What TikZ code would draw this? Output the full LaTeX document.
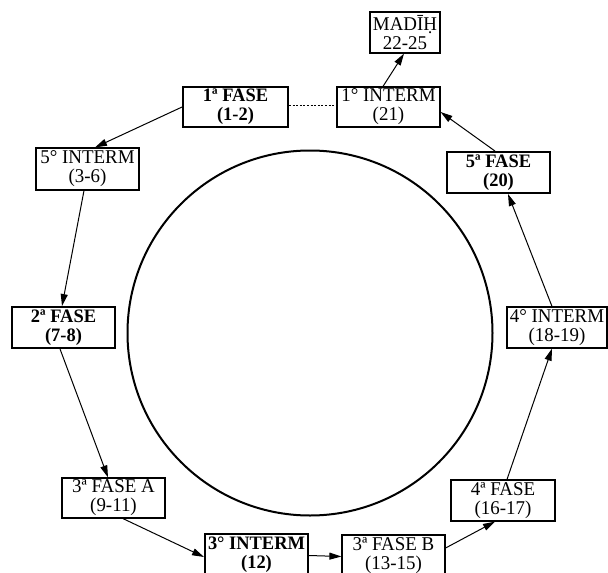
\documentclass[tikz,border=0pt]{standalone}
\usepackage{fontspec}
\setmainfont[FakeStretch=0.97]{Liberation Serif}
\usetikzlibrary{arrows.meta}
\begin{document}
\begin{tikzpicture}[x=1pt,y=-1pt,
  box/.style={draw, line width=1.2pt, inner sep=0pt, align=center,
    minimum width=103pt, minimum height=40pt,
    font=\fontsize{19.5}{19}\selectfont},
  boldbox/.style={box, line width=1.9pt, font=\fontsize{19}{19}\selectfont\bfseries},
  conn/.style={line width=1pt, -{Triangle[length=12pt,width=7pt]}},
  dotline/.style={line width=1pt, dash pattern=on 2pt off 1.6pt}]
\useasboundingbox (0,0) rectangle (608,573);
\clip (0,0) rectangle (608,573);

\draw[line width=2pt] (310,333) circle[radius=182.5];

\node[box, minimum width=70pt, minimum height=41pt] (M) at (405,32.5) {MAD\=I\d{H}\\22-25};
\node[boldbox, minimum width=105pt] (F1) at (235.5,107) {1ª FASE\\(1-2)};
\node[box] (I1) at (388.5,107) {1° INTERM\\(21)};
\node[box, minimum height=42pt] (I5) at (87.5,169) {5° INTERM\\(3-6)};
\node[boldbox, minimum height=41pt] (F5) at (498.5,172.5) {5ª FASE\\(20)};
\node[boldbox, minimum height=41pt] (F2) at (63.5,327.5) {2ª FASE\\(7-8)};
\node[box, minimum width=100pt, minimum height=41pt] (I4) at (557,327.5) {4° INTERM\\(18-19)};
\node[box] (F3A) at (113.5,498) {3ª FASE A\\(9-11)};
\node[box, minimum width=104pt, minimum height=41pt] (F4) at (503,500.5) {4ª FASE\\(16-17)};
\node[boldbox, minimum height=41pt] (I3) at (256.5,554.5) {3° INTERM\\(12)};
\node[box, minimum height=41pt] (F3B) at (393.5,555.5) {3ª FASE B\\(13-15)};

\draw[conn] (F1.west) -- ([xshift=7.5pt]I5.north);
\draw[conn] ([xshift=-3.5pt]I5.south) -- ([xshift=-1.5pt]F2.north);
\draw[conn] ([xshift=-3.5pt]F2.south) -- ([xshift=-5.5pt]F3A.north);
\draw[conn] ([xshift=9.5pt]F3A.south) -- ([yshift=-2.5pt]I3.west);
\draw[conn] ([yshift=-1pt]I3.east) -- ([yshift=-1pt]F3B.west);
\draw[conn] ([yshift=7.5pt]F3B.east) -- ([xshift=-8pt]F4.south);
\draw[conn] ([xshift=4pt]F4.north) -- ([xshift=-5pt]I4.south);
\draw[conn] ([xshift=-5pt]I4.north) -- ([xshift=9.5pt]F5.south);
\draw[conn] ([xshift=-3.5pt]F5.north) -- ([yshift=-5pt]I1.east);
\draw[conn] ([xshift=-5.5pt]I1.north) -- ([xshift=-1pt]M.south);
\draw[dotline] ([yshift=2pt]F1.east) -- ([yshift=2pt]I1.west);
\end{tikzpicture}
\end{document}
